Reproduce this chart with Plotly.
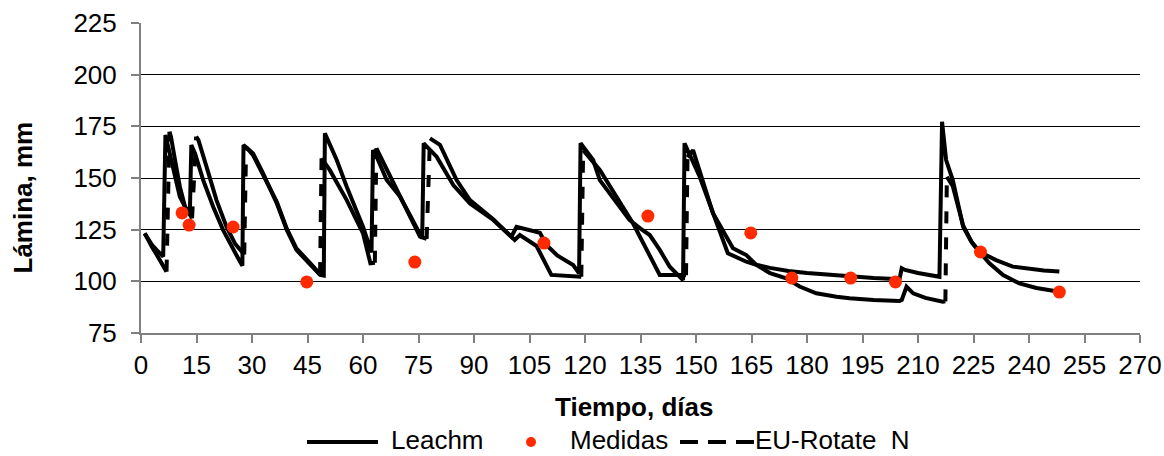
import plotly.graph_objects as go

# ---------------- data ----------------
leachm_day = [1, 2, 3, 4.2, 5, 6.0,
              6.6, 6.9, 8.7, 10.5, 11.9, 13.2,
              13.6, 14.6, 16.8, 19.5, 22.2, 24.0, 26.0, 27.4,
              27.7, 30.3, 33.0, 36.7, 39.4, 42.0, 45.6, 48.4, 49.4,
              49.7, 52.9, 55.6, 60.0, 61.9, 62.3,
              62.7, 64.0, 66.4, 70.0, 73.0, 76.0,
              76.4, 79.9, 84.4, 88.9, 95.2, 100.1, 101.5, 105.0, 107.8, 109.6, 112.5, 116.8, 118.4,
              118.8, 122.2, 124.0, 129.4, 132.0, 135.0, 137.5, 140.2, 142.9, 146.5,
              146.9, 151.0, 154.8, 158.6, 163.6, 166.3, 170, 175, 180, 185, 191.5, 198, 205,
              205.6, 206.5, 210, 215.8,
              216.5, 217.6, 219.4, 222.2, 224.5, 226.6, 231.1, 235.6, 240, 244, 248.2]
leachm_val = [123.2, 120.3, 117.6, 115.2, 113.8, 112.0,
              170.8, 168.4, 153.9, 140.9, 136.1, 132.5,
              166.0, 161.9, 149.0, 136.1, 124.8, 118.4, 112.0, 107.5,
              166.0, 161.9, 152.3, 137.7, 124.8, 115.2, 108.7, 103.1, 102.8,
              171.6, 158.7, 145.8, 126.4, 116.8, 114.0,
              163.5, 159.0, 149.0, 141.0, 131.0, 120.8,
              166.8, 160.3, 146.6, 137.7, 129.7, 121.6, 126.4, 124.6, 123.5, 117.6, 112.5, 107.9, 103.9,
              166.8, 158.7, 149.0, 136.1, 129.7, 125.5, 122.4, 115.2, 107.1, 100.6,
              166.8, 150.6, 132.0, 113.6, 109.5, 108.0, 106.5, 105.0, 104.0, 103.2, 102.2, 101.6, 101.0,
              106.3, 105.5, 104.0, 102.2,
              177.2, 158.7, 149.0, 126.4, 119.0, 114.3, 110.3, 107.1, 106.0, 105.2, 104.7]

eu_day = [1, 2, 3, 4.2, 5.5, 6.9,
          7.7, 8.1, 9.2, 10.5, 11.9, 12.8, 13.8,
          14.9, 15.5, 17.7, 20.4, 23.1, 25.5, 27.6, 27.9,
          28.4, 30.3, 33.0, 36.7, 39.4, 42.0, 45.6, 48.4,
          48.8, 51.0, 55.6, 60.0, 62.0, 63.2,
          63.6, 68.2, 75.4, 77.2,
          78.1, 80.8, 85.3, 88.9, 95.2, 100.1, 101.0, 102.4, 105.5, 106.9, 110.9, 116.8, 119.0,
          119.5, 124.0, 133.0, 140.2, 145.6, 147.3,
          147.7, 149.2, 154.6, 160.0, 163.6, 166.3,
          170, 174.4, 178, 182.5, 188, 191.5, 198, 205, 205.6, 206.9, 208.7, 212, 216.7, 217.4,
          217.8, 219.4, 222.2, 224.5, 226.6, 229.3, 233, 237.4, 242, 248.2]
eu_val = [123.2, 119.5, 116.5, 113.0, 108.5, 104.7,
          172.4, 170.0, 158.7, 145.8, 136.1, 133.0, 130.5,
          170.0, 168.4, 155.5, 139.3, 126.4, 118.0, 113.6, 113.0,
          165.0, 161.0, 151.5, 138.5, 125.5, 116.0, 109.0, 103.5,
          159.5, 153.9, 139.3, 123.2, 108.7, 109.0,
          164.4, 147.4, 121.6, 120.5,
          169.2, 166.0, 149.0, 139.3, 130.0, 121.6, 120.0, 122.4, 118.4, 117.1, 103.1, 102.2, 102.2,
          163.5, 153.9, 128.0, 103.1, 103.1, 103.0,
          160.0, 163.5, 132.9, 116.0, 112.7, 107.9,
          104.0, 101.5, 97.5, 94.2, 92.5, 91.8, 91.0, 90.5, 91.0, 97.4, 94.2, 92.0, 90.1, 90.3,
          150.6, 146.0, 127.0, 119.0, 114.3, 108.7, 103.0, 99.0, 96.8, 95.0]

medidas_day = [11.1, 13.0, 24.9, 44.8, 74.0, 108.9, 137.0, 164.8, 175.9, 191.8, 203.9, 226.9, 248.2]
medidas_val = [133.1, 127.2, 126.3, 99.7, 109.3, 118.5, 131.6, 123.4, 101.6, 101.6, 99.7, 114.2, 94.8]

x_ticks = list(range(0, 271, 15))
y_ticks = [75, 100, 125, 150, 175, 200, 225]

series_names = ["Leachm", "Medidas", "EU-Rotate  N"]
x_title = "Tiempo, días"
y_title = "Lámina, mm"

# ---------------- layout geometry / style ----------------
W, H = 1164, 456
L, R, T, B = 141, 1140, 23, 333
FONT = "Liberation Sans, Arial, sans-serif"
FS = 26
RED = "#FF2A00"
GRAY = "#808080"


def fx(px):
    return (px - L) / (R - L)


def fy(py):
    return (B - py) / (B - T)


# EU-Rotate: the curve is drawn solid, the jumps (irrigation rises) dashed
eu_solid_x, eu_solid_y = [], []
eu_jump_x, eu_jump_y = [], []
for i in range(len(eu_day)):
    eu_solid_x.append(eu_day[i])
    eu_solid_y.append(eu_val[i])
    if i + 1 < len(eu_day) and eu_val[i + 1] - eu_val[i] > 20:
        eu_solid_x.append(None)
        eu_solid_y.append(None)
        eu_jump_x += [eu_day[i], eu_day[i + 1], None]
        eu_jump_y += [eu_val[i], eu_val[i + 1], None]

fig = go.Figure()
fig.add_trace(go.Scatter(x=leachm_day, y=leachm_val, mode="lines", name=series_names[0],
                         line=dict(color="black", width=4), showlegend=False))
fig.add_trace(go.Scatter(x=eu_solid_x, y=eu_solid_y, mode="lines", name=series_names[2],
                         line=dict(color="black", width=4), showlegend=False, connectgaps=False))
fig.add_trace(go.Scatter(x=eu_jump_x, y=eu_jump_y, mode="lines", name=series_names[2],
                         line=dict(color="black", width=4, dash="12px,14px"), showlegend=False,
                         connectgaps=False))
fig.add_trace(go.Scatter(x=medidas_day, y=medidas_val, mode="markers", name=series_names[1],
                         marker=dict(color=RED, size=13, line=dict(width=0)), showlegend=False))

# manual legend (matches reference placement)
LEG_Y = 442
shapes = [
    dict(type="line", xref="paper", yref="paper", x0=fx(307), x1=fx(378), y0=fy(LEG_Y), y1=fy(LEG_Y),
         line=dict(color="black", width=4)),
    dict(type="circle", xref="paper", yref="paper", xsizemode="pixel", ysizemode="pixel",
         xanchor=fx(531), yanchor=fy(LEG_Y), x0=-5, x1=5, y0=-5, y1=5,
         fillcolor=RED, line=dict(width=0)),
    dict(type="line", xref="paper", yref="paper", x0=fx(680), x1=fx(754), y0=fy(LEG_Y), y1=fy(LEG_Y),
         line=dict(color="black", width=4, dash="18px,10px")),
]
ann = [
    dict(text=series_names[0], x=fx(390)),
    dict(text=series_names[1], x=fx(569)),
    dict(text=series_names[2].replace("  ", "\u00a0 "), x=fx(754)),
]
annotations = []
for a in ann:
    a.update(xref="paper", yref="paper", y=fy(H), xanchor="left", yanchor="bottom",
             borderpad=0, showarrow=False, font=dict(family=FONT, size=FS, color="black"))
    annotations.append(a)
annotations.append(dict(text=x_title, x=fx(634), y=fy(407), xref="paper", yref="paper",
                        xanchor="center", yanchor="middle", showarrow=False,
                        font=dict(family=FONT, size=FS, color="black", weight="bold")))
annotations.append(dict(text=y_title, x=fx(22), y=fy(197.5), xref="paper", yref="paper",
                        xanchor="center", yanchor="middle", showarrow=False, textangle=-90,
                        font=dict(family=FONT, size=FS, color="black", weight="bold")))

fig.update_layout(
    width=W, height=H,
    margin=dict(l=L, r=W - R, t=T, b=H - B, pad=0),
    paper_bgcolor="white", plot_bgcolor="white",
    font=dict(family=FONT, size=FS, color="black"),
    showlegend=False,
    shapes=shapes,
    annotations=annotations,
)
fig.update_xaxes(range=[0, 270], tickvals=x_ticks, ticktext=[str(t) for t in x_ticks],
                 showgrid=False, zeroline=False, showline=True, linecolor=GRAY, linewidth=2,
                 ticks="outside", ticklen=8, tickcolor=GRAY, tickwidth=1.5,
                 tickfont=dict(family=FONT, size=FS, color="black"), automargin=False)
fig.update_yaxes(range=[75, 225], tickvals=y_ticks, ticktext=[str(t) for t in y_ticks],
                 showgrid=True, gridcolor="black", gridwidth=1, zeroline=False,
                 showline=True, linecolor=GRAY, linewidth=2,
                 ticks="outside", ticklen=8, tickcolor=GRAY, tickwidth=1.5, ticklabelstandoff=9,
                 tickfont=dict(family=FONT, size=FS, color="black"), automargin=False)

fig.write_html(
    "out.html",
    config={"displayModeBar": False},
    post_script="document.body.style.margin='0';document.body.style.padding='0';"
                "document.body.style.overflow='hidden';",
)
